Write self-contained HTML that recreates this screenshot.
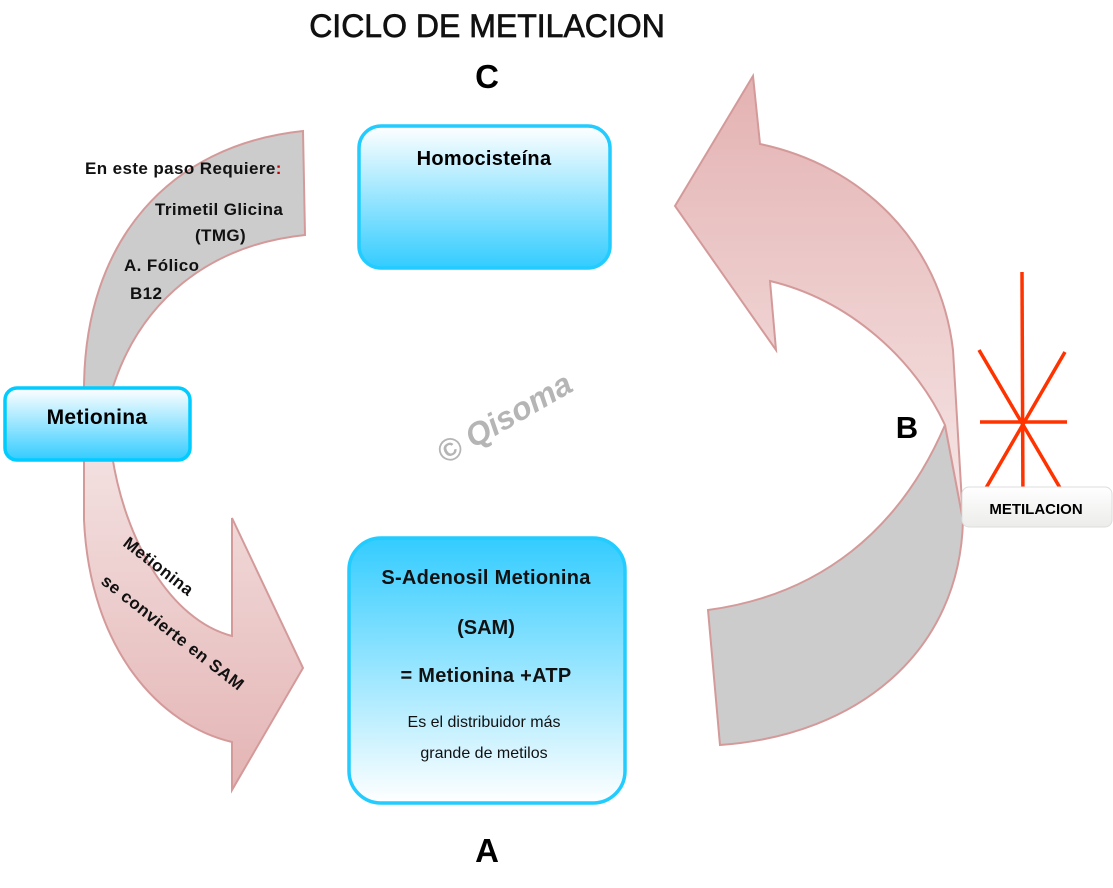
<!DOCTYPE html>
<html><head><meta charset="utf-8"><style>
body{margin:0;width:1113px;height:883px;background:#fff;overflow:hidden;font-family:"Liberation Sans",sans-serif}
</style></head><body>
<svg width="1113" height="883" viewBox="0 0 1113 883" xmlns="http://www.w3.org/2000/svg">
<defs>
<linearGradient id="pink" x1="0" y1="0" x2="0" y2="1"><stop offset="0" stop-color="#f3e0e0"/><stop offset="1" stop-color="#e4b4b4"/></linearGradient>
<linearGradient id="pink2" x1="0" y1="0" x2="0" y2="1"><stop offset="0" stop-color="#e4b2b2"/><stop offset="1" stop-color="#f6e6e6"/></linearGradient>
<linearGradient id="cyanDown" x1="0" y1="0" x2="0" y2="1"><stop offset="0" stop-color="#ffffff"/><stop offset="1" stop-color="#33ccff"/></linearGradient>
<linearGradient id="cyanUp" x1="0" y1="0" x2="0" y2="1"><stop offset="0" stop-color="#33ccff"/><stop offset="1" stop-color="#ffffff"/></linearGradient>
<linearGradient id="wbox" x1="0" y1="0" x2="0" y2="1"><stop offset="0" stop-color="#ffffff"/><stop offset="1" stop-color="#ececea"/></linearGradient>
</defs>
<text x="487" y="37" text-anchor="middle" font-size="32" fill="#111" stroke="#111" stroke-width="0.7">CICLO DE METILACION</text>
<text x="487" y="88" text-anchor="middle" font-size="33" font-weight="bold">C</text>
<text x="487" y="862" text-anchor="middle" font-size="33" font-weight="bold">A</text>
<text x="907" y="438" text-anchor="middle" font-size="31" font-weight="bold">B</text>

<path d="M303,131 C170,145 84,240 84,390 L112,390 C140,300 210,245 305,235 Z" fill="#cccccc" stroke="#d49a9a" stroke-width="2"/>
<path d="M84,455 L84,520 C90,650 160,725 232,742 L232,790 L303,668 L232,518 L232,636 C170,620 125,540 112,455 Z" fill="url(#pink)" stroke="#d49a9a" stroke-width="2"/>
<path d="M945,425 C900,530 820,595 708,610 L720,745 C860,735 960,650 963,520 Z" fill="#cccccc" stroke="#d49a9a" stroke-width="2"/>
<path d="M963,520 L953,350 C940,240 860,165 760,144 L753,76 L675,206 L776,350 L770,281 C850,300 915,360 945,425 Z" fill="url(#pink2)" stroke="#d49a9a" stroke-width="2"/>

<g stroke="#ff3300" stroke-width="3.5">
<line x1="1022" y1="272" x2="1023" y2="510"/>
<line x1="980" y1="422" x2="1067" y2="422"/>
<line x1="979" y1="350" x2="1066" y2="498"/>
<line x1="1065" y1="352" x2="979" y2="500"/>
</g>
<rect x="962" y="487" width="150" height="40" rx="7" fill="url(#wbox)" stroke="#ddd"/>
<text x="1036" y="514" text-anchor="middle" font-size="15" font-weight="bold">METILACION</text>

<g font-size="17" font-weight="bold" fill="#111" letter-spacing="0.4">
<text x="85" y="174">En este paso Requiere<tspan fill="#c00000">:</tspan></text>
<text x="155" y="215">Trimetil Glicina</text>
<text x="195" y="241">(TMG)</text>
<text x="124" y="271">A. Fólico</text>
<text x="130" y="299">B12</text>
</g>
<g font-size="17" font-weight="bold" fill="#111" letter-spacing="0.5">
<text transform="translate(122,545) rotate(38)">Metionina</text>
<text transform="translate(100,583) rotate(38)">se convierte en SAM</text>
</g>

<rect x="359" y="126" width="251" height="142" rx="22" fill="url(#cyanDown)" stroke="#22ccff" stroke-width="3.5"/>
<text x="484" y="165" text-anchor="middle" font-size="20" font-weight="bold" letter-spacing="0.3">Homocisteína</text>
<rect x="5" y="388" width="185" height="72" rx="12" fill="url(#cyanDown)" stroke="#00ccff" stroke-width="3.5"/>
<text x="97" y="424" text-anchor="middle" font-size="21" font-weight="bold" letter-spacing="0.3">Metionina</text>
<rect x="349" y="538" width="276" height="265" rx="32" fill="url(#cyanUp)" stroke="#22ccff" stroke-width="3.5"/>
<g text-anchor="middle" fill="#111">
<text x="486" y="584" font-size="20" font-weight="bold" letter-spacing="0.3">S-Adenosil Metionina</text>
<text x="486" y="634" font-size="20" font-weight="bold">(SAM)</text>
<text x="486" y="682" font-size="20" font-weight="bold" letter-spacing="0.3">= Metionina +ATP</text>
<text x="484" y="727" font-size="16">Es el distribuidor más</text>
<text x="484" y="758" font-size="16">grande de metilos</text>
</g>
<text transform="translate(445,465) rotate(-30)" font-size="32" font-weight="bold" font-style="italic" fill="#b5b5b5">© Qisoma</text>
</svg>
</body></html>
